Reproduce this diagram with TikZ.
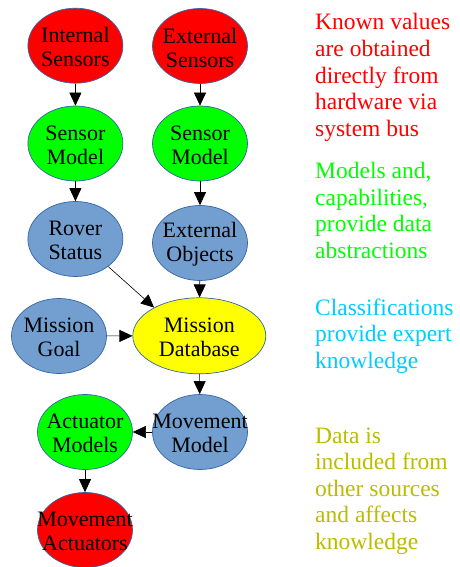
\documentclass[tikz,border=0pt]{standalone}
\usepackage{fontspec}
\setmainfont{Liberation Serif}
\usetikzlibrary{arrows.meta,shapes.geometric}
\definecolor{hwred}{RGB}{255,0,0}
\definecolor{modgreen}{RGB}{0,255,0}
\definecolor{clsblue}{RGB}{114,159,207}
\definecolor{dbyellow}{RGB}{255,255,0}
\definecolor{rimblue}{RGB}{52,101,164}
\definecolor{notecyan}{RGB}{0,204,255}
\definecolor{noteolive}{RGB}{187,187,0}

\begin{document}
\begin{tikzpicture}[
    x=1pt, y=1pt,
    blob/.style={ellipse, draw=rimblue, line width=0.7pt, minimum width=95pt, minimum height=75pt, inner sep=0pt},
    tag/.style={align=center, inner sep=0pt, yshift=-1.5pt, font=\fontsize{22}{24}\selectfont},
    note/.style={anchor=north west, align=left, inner sep=0pt, font=\fontsize{23.5}{26.6}\selectfont},
    link/.style={-{Triangle[length=13pt,width=12pt]}, line width=0.6pt}
  ]
    \useasboundingbox (0,0) rectangle (459,-567);
    % left and right columns
    \node[blob, fill=hwred, label={[tag]center:{Internal\\Sensors}}] (intsens) at (75.4,-45.7) {};
    \node[blob, fill=hwred, label={[tag]center:{External\\Sensors}}] (extsens) at (200,-46) {};
    \node[blob, fill=modgreen, label={[tag]center:{Sensor\\Model}}] (intmodel) at (75.4,-143.5) {};
    \node[blob, fill=modgreen, label={[tag]center:{Sensor\\Model}}] (extmodel) at (200,-143.5) {};
    \node[blob, fill=clsblue, label={[tag]center:{Rover\\Status}}] (rover) at (75.4,-239) {};
    \node[blob, fill=clsblue, label={[tag]center:{External\\Objects}}] (objects) at (200,-243) {};
    \node[blob, fill=clsblue, label={[tag]center:{Mission\\Goal}}] (goal) at (59,-336) {};
    \node[blob, fill=dbyellow, minimum width=133pt, minimum height=76pt, label={[tag]center:{Mission\\Database}}] (db) at (199.3,-335.8) {};
    \node[blob, fill=clsblue, label={[tag]center:{Movement\\Model}}] (movmodel) at (200,-432) {};
    \node[blob, fill=modgreen, label={[tag]center:{Actuator\\Models}}] (actmodel) at (85,-432) {};
    \node[blob, fill=hwred, label={[tag]center:{Movement\\Actuators}}] (actuators) at (85,-530) {};
    \draw[link] (intsens) -- (intmodel);
    \draw[link] (extsens) -- (extmodel);
    \draw[link] (intmodel) -- (rover);
    \draw[link] (extmodel) -- (objects);
    \draw[link] (rover.-40) -- (db.148);
    \draw[link] (objects) -- (db);
    \draw[link] (goal) -- (db);
    \draw[link] (db) -- (movmodel);
    \draw[link] (movmodel) -- (actmodel);
    \draw[link] (actmodel) -- (actuators);
    % legend texts
    \node[note, text=hwred] (knownnote) at (315,-13.3) {Known values\\are obtained\\directly from\\hardware via\\system bus};
    \node[note, text=modgreen] (modelnote) at (315,-162) {Models and,\\capabilities,\\provide data\\abstractions};
    \node[note, text=notecyan] (classnote) at (315,-298.3) {Classifications\\provide expert\\knowledge};
    \node[note, text=noteolive] (datanote) at (315,-427.3) {Data is\\included from\\other sources\\and affects\\knowledge};
  \end{tikzpicture}
\end{document}
